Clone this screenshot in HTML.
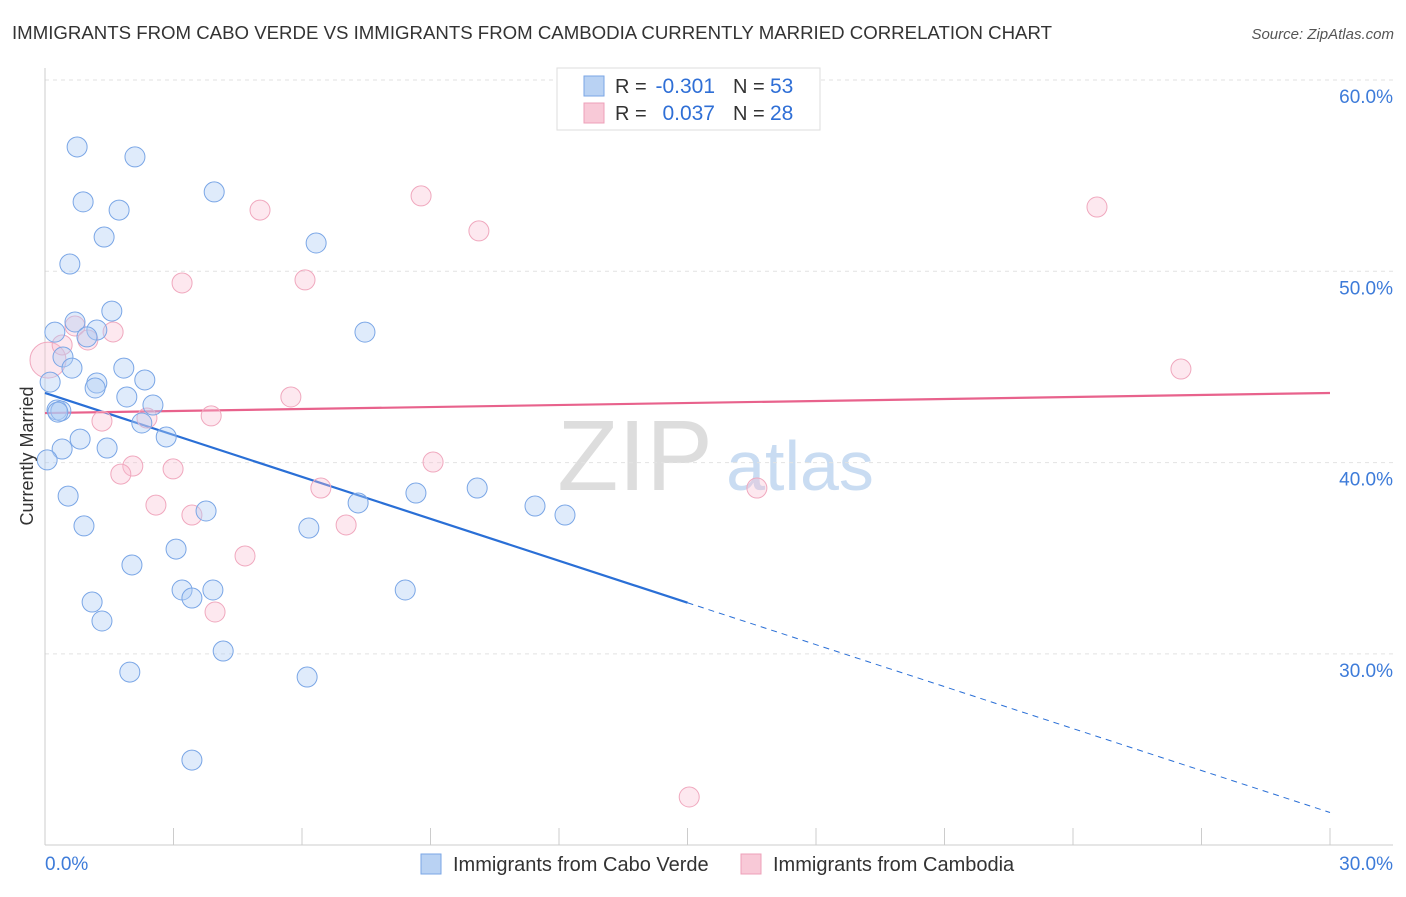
<!DOCTYPE html>
<html><head><meta charset="utf-8"><style>
body{margin:0;background:#fff;font-family:"Liberation Sans",sans-serif;}
svg text{font-family:"Liberation Sans",sans-serif;}
</style></head><body>
<svg id="chart" width="1406" height="892" viewBox="0 0 1406 892" xmlns="http://www.w3.org/2000/svg">
<text x="12" y="39" font-size="18.5" fill="#333" textLength="1040" lengthAdjust="spacingAndGlyphs">IMMIGRANTS FROM CABO VERDE VS IMMIGRANTS FROM CAMBODIA CURRENTLY MARRIED CORRELATION CHART</text>
<text x="1394" y="39" font-size="15" fill="#555" text-anchor="end" font-style="italic">Source: ZipAtlas.com</text>
<g>
<text x="635" y="490" font-size="100" fill="#ddd" font-family="Liberation Serif" text-anchor="middle">ZIP</text>
<text x="800" y="490" font-size="70" fill="#c9dcf2" text-anchor="middle">atlas</text>
</g>
<g id="grid"></g><g id="axes"></g><g id="trend"></g><g id="points"></g>
<text transform="translate(33,456) rotate(-90)" font-size="18" fill="#333" text-anchor="middle">Currently Married</text>
<g>
<rect x="557" y="68" width="263" height="62" fill="#fff" stroke="#ddd"/>
<rect x="584" y="76" width="20" height="20" fill="#b9d2f3" stroke="#7aa6e6"/>
<rect x="584" y="103" width="20" height="20" fill="#f8c9d7" stroke="#eea0b8"/>
<text x="615" y="93" font-size="20" fill="#333">R =</text>
<text x="715" y="93" font-size="21" fill="#2f6fd6" text-anchor="end">-0.301</text>
<text x="733" y="93" font-size="20" fill="#333">N =</text>
<text x="770" y="93" font-size="21" fill="#2f6fd6">53</text>
<text x="615" y="120" font-size="20" fill="#333">R =</text>
<text x="715" y="120" font-size="21" fill="#2f6fd6" text-anchor="end">0.037</text>
<text x="733" y="120" font-size="20" fill="#333">N =</text>
<text x="770" y="120" font-size="21" fill="#2f6fd6">28</text>
</g>
<g>
<rect x="421" y="854" width="20" height="20" fill="#b9d2f3" stroke="#7aa6e6"/>
<text x="453" y="871" font-size="20" fill="#333">Immigrants from Cabo Verde</text>
<rect x="741" y="854" width="20" height="20" fill="#f8c9d7" stroke="#eea0b8"/>
<text x="773" y="871" font-size="20" fill="#333">Immigrants from Cambodia</text>
</g>
</svg>
<script>
const yTicks=[60,50,40,30];
const yTickLabels=["60.0%","50.0%","40.0%","30.0%"];
const xTicks=[0,3,6,9,12,15,18,21,24,27,30];
const xEndLabels=["0.0%","30.0%"];
const blueX=[0.75,2.10,0.89,1.73,3.95,1.38,6.33,0.58,1.56,0.70,0.23,1.21,0.98,7.47,0.42,0.63,1.84,1.21,1.17,2.33,0.12,1.91,2.52,0.28,0.37,2.26,2.83,0.82,0.40,1.45,0.05,0.54,0.91,3.76,6.16,7.31,8.66,10.09,11.44,12.14,3.06,2.03,3.20,3.92,3.43,1.10,1.33,8.41,4.16,1.98,6.12,3.43,0.30];
const blueY=[56.5,55.98,53.63,53.20,54.15,51.79,51.48,50.38,47.92,47.35,46.82,46.93,46.57,46.82,45.52,44.94,44.94,44.16,43.90,44.32,44.21,43.43,43.01,42.75,42.70,42.07,41.34,41.23,40.71,40.76,40.14,38.25,36.69,37.47,36.58,37.89,38.41,38.67,37.73,37.26,35.48,34.65,33.34,33.34,32.92,32.71,31.72,33.34,30.15,29.05,28.79,24.45,42.64];
const pinkX=[0.07,0.70,0.40,1.00,1.59,5.02,8.78,10.13,3.20,6.07,24.56,26.52,5.74,3.88,1.33,2.38,2.05,1.77,2.99,2.59,3.43,6.44,9.06,7.03,4.67,3.97,16.62,15.04];
const pinkY=[45.36,47.14,46.15,46.41,46.83,53.20,53.94,52.11,49.39,49.55,53.36,44.89,43.43,42.44,42.17,42.33,39.82,39.40,39.67,37.78,37.26,38.67,40.03,36.74,35.12,32.19,38.67,22.52];
const blueTrend=[43.64,-0.731];
const pinkTrend=[42.59,0.035];
const NS="http://www.w3.org/2000/svg";
const X=v=>45+v/30*1285, Y=v=>80+(60-v)*19.13;
function mk(t,a,p){const e=document.createElementNS(NS,t);for(const k in a)e.setAttribute(k,a[k]);p.appendChild(e);return e;}
const grid=document.getElementById('grid'),axes=document.getElementById('axes');
yTicks.forEach((v,i)=>{
 const l=mk('line',{x1:45,x2:1393,y1:Y(v),y2:Y(v),stroke:'#e2e2e2','stroke-dasharray':'4,4'},grid);
 
 
 const t=mk('text',{x:1393,y:Y(v)+23,'font-size':19,fill:'#3d7bd9','text-anchor':'end'},grid);t.textContent=yTickLabels[i];
 
 
});
mk('line',{x1:45,x2:45,y1:68,y2:845,stroke:'#ccc'},axes);
mk('line',{x1:45,x2:1393,y1:845,y2:845,stroke:'#ccc'},axes);
xTicks.forEach(v=>{const l=mk('line',{x1:X(v),x2:X(v),y1:828,y2:845,stroke:'#ccc'},axes);
 
 });
[[0,'start',45],[30,'end',1393]].forEach((d,i)=>{const t=mk('text',{x:d[2],y:870,'font-size':19,fill:'#3d7bd9','text-anchor':d[1]},axes);t.textContent=xEndLabels[i];
 
 });
const pts=document.getElementById('points');
pinkX.forEach((x,i)=>{const c=mk('circle',{cx:X(x),cy:Y(pinkY[i]),r:i===0?18:10,fill:'rgba(248,190,208,0.35)',stroke:'#f0a8be','stroke-width':1},pts);
 
 });
blueX.forEach((x,i)=>{const c=mk('circle',{cx:X(x),cy:Y(blueY[i]),r:10,fill:'rgba(175,205,245,0.4)',stroke:'#7aa6e6','stroke-width':1},pts);
 
 });
const tr=document.getElementById('trend');
const bf=v=>blueTrend[0]+blueTrend[1]*v, pf=v=>pinkTrend[0]+pinkTrend[1]*v;
const b1=mk('line',{x1:X(0),y1:Y(bf(0)),x2:X(15),y2:Y(bf(15)),stroke:'#2a6fd6','stroke-width':2.2},tr);


const b2=mk('line',{x1:X(15),y1:Y(bf(15)),x2:X(30),y2:Y(bf(30)),stroke:'#2a6fd6','stroke-width':1,'stroke-dasharray':'6,5'},tr);


const p1=mk('line',{x1:X(0),y1:Y(pf(0)),x2:X(30),y2:Y(pf(30)),stroke:'#e8628c','stroke-width':2.2},tr);


</script>
</body></html>
